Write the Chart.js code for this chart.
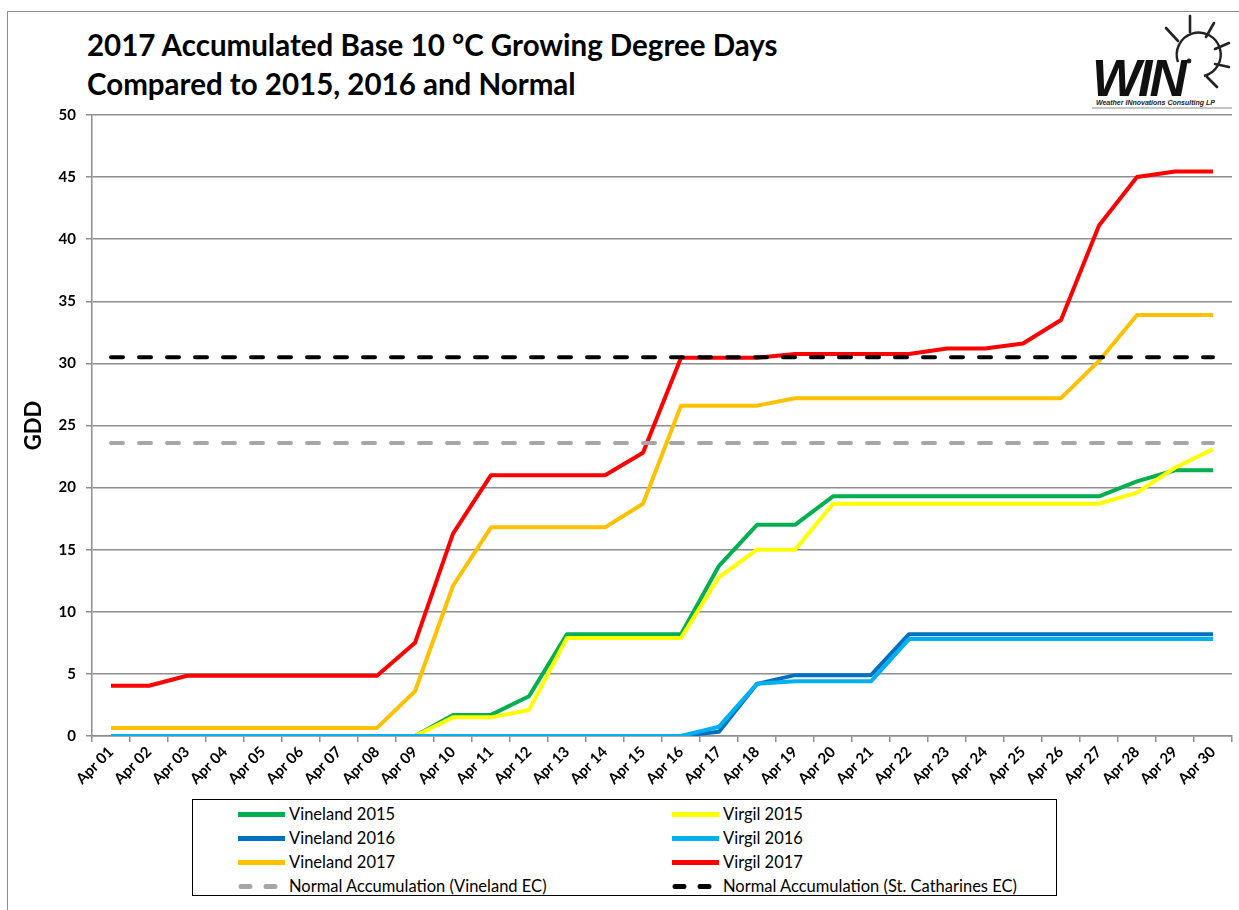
<!DOCTYPE html>
<html>
<head>
<meta charset="utf-8">
<title>2017 Accumulated Base 10 °C Growing Degree Days</title>
<script src="https://cdn.jsdelivr.net/npm/chart.js@4.4.1/dist/chart.umd.min.js"></script>
<style>
  html,body{margin:0;padding:0;background:#fff;}
  body{width:1239px;height:910px;position:relative;overflow:hidden;font-family:Lato,"Liberation Sans",sans-serif;}
  #frame{position:absolute;left:7px;top:11px;width:1250px;height:920px;border:1px solid #8c8c8c;}
  #title{position:absolute;left:87px;top:25px;font-weight:bold;font-size:29.5px;line-height:39px;color:#000;}
  #wrap{position:absolute;left:0;top:0;width:1239px;height:800px;}
  #logo{position:absolute;left:1086px;top:12px;}
  #legend{position:absolute;left:192px;top:799px;width:865px;height:97px;border:1px solid #000;box-sizing:border-box;background:#fff;}
  .item{position:absolute;height:20px;font-size:16.5px;line-height:20px;color:#000;white-space:nowrap;}
  .item canvas{position:absolute;left:0;top:0;}
  .item span{position:absolute;left:52px;top:0;}
</style>
</head>
<body>
<div id="frame"></div>
<div id="title">2017 Accumulated Base 10 °C Growing Degree Days<br>Compared to 2015, 2016 and Normal</div>
<svg id="logo" width="150" height="100" viewBox="0 0 150 100">
  <!-- sun -->
  <path d="M92 50 A 22 22 0 1 1 118 64" fill="none" stroke="#222" stroke-width="2.4"/>
  <g stroke="#222" stroke-width="2.6" stroke-linecap="round">
    <line x1="80" y1="16" x2="92" y2="29"/>
    <line x1="104" y1="4" x2="104" y2="20"/>
    <line x1="128" y1="11" x2="120" y2="25"/>
    <line x1="143" y1="31" x2="129" y2="37"/>
    <line x1="143" y1="55" x2="129" y2="52"/>
    <line x1="131" y1="75" x2="121" y2="65"/>
  </g>
  <circle cx="103" cy="49" r="2.4" fill="#222"/>
  <text x="6" y="84" font-family="Liberation Sans, sans-serif" font-weight="bold" font-style="italic" font-size="52" fill="#111" letter-spacing="-3">WIN</text>
  <text x="10" y="93" font-family="Liberation Sans, sans-serif" font-weight="bold" font-style="italic" font-size="7" fill="#222">Weather INnovations Consulting LP</text>
  <line x1="6" y1="96" x2="146" y2="96" stroke="#8c8c8c" stroke-width="1"/>
</svg>
<div id="wrap"><canvas id="gdd" width="1239" height="800"></canvas></div>
<div id="legend"></div>

<script>
// categories
const days = ['Apr 01','Apr 02','Apr 03','Apr 04','Apr 05','Apr 06','Apr 07','Apr 08','Apr 09','Apr 10',
  'Apr 11','Apr 12','Apr 13','Apr 14','Apr 15','Apr 16','Apr 17','Apr 18','Apr 19','Apr 20',
  'Apr 21','Apr 22','Apr 23','Apr 24','Apr 25','Apr 26','Apr 27','Apr 28','Apr 29','Apr 30'];

// series (GDD, base 10 °C)
const vineland2015 = [0,0,0,0,0,0,0,0,0,1.7,1.7,3.2,8.2,8.2,8.2,8.2,13.7,17.0,17.0,19.3,
  19.3,19.3,19.3,19.3,19.3,19.3,19.3,20.5,21.4,21.4];
const virgil2015 = [0,0,0,0,0,0,0,0,0,1.5,1.5,2.1,7.9,7.9,7.9,7.9,12.8,15.0,15.0,18.7,
  18.7,18.7,18.7,18.7,18.7,18.7,18.7,19.6,21.6,23.1];
const vineland2016 = [0,0,0,0,0,0,0,0,0,0,0,0,0,0,0,0,0.35,4.2,4.9,4.9,
  4.9,8.2,8.2,8.2,8.2,8.2,8.2,8.2,8.2,8.2];
const virgil2016 = [0,0,0,0,0,0,0,0,0,0,0,0,0,0,0,0,0.75,4.2,4.4,4.4,
  4.4,7.8,7.8,7.8,7.8,7.8,7.8,7.8,7.8,7.8];
const vineland2017 = [0.65,0.65,0.65,0.65,0.65,0.65,0.65,0.65,3.6,12.1,16.8,16.8,16.8,16.8,18.7,26.6,26.6,26.6,27.2,27.2,
  27.2,27.2,27.2,27.2,27.2,27.2,30.2,33.9,33.9,33.9];
const virgil2017 = [4.05,4.05,4.85,4.85,4.85,4.85,4.85,4.85,7.5,16.3,21.0,21.0,21.0,21.0,22.8,30.45,30.45,30.45,30.75,30.75,
  30.75,30.75,31.2,31.2,31.6,33.5,41.1,45.0,45.45,45.45];
const normalVineland = [23.6,23.6,23.6,23.6,23.6,23.6,23.6,23.6,23.6,23.6,23.6,23.6,23.6,23.6,23.6,
  23.6,23.6,23.6,23.6,23.6,23.6,23.6,23.6,23.6,23.6,23.6,23.6,23.6,23.6,23.6];
const normalStCath = [30.5,30.5,30.5,30.5,30.5,30.5,30.5,30.5,30.5,30.5,30.5,30.5,30.5,30.5,30.5,
  30.5,30.5,30.5,30.5,30.5,30.5,30.5,30.5,30.5,30.5,30.5,30.5,30.5,30.5,30.5];

// y ticks
const yTicks = [0,5,10,15,20,25,30,35,40,45,50];

const GRID = '#8e8e8e';

function line(label, data, color, dash){
  return {label, data, borderColor:color, backgroundColor:color, borderWidth:4,
    borderDash: dash ? [12,16] : [], borderCapStyle: dash ? 'round' : 'butt',
    borderJoinStyle:'round', pointRadius:0, tension:0, fill:false};
}

const datasets = [
  line('Vineland 2015', vineland2015, '#00B050'),
  line('Virgil 2015', virgil2015, '#FFFF00'),
  line('Vineland 2016', vineland2016, '#0070C0'),
  line('Virgil 2016', virgil2016, '#00B0F0'),
  line('Vineland 2017', vineland2017, '#FFC000'),
  line('Virgil 2017', virgil2017, '#FF0000'),
  line('Normal Accumulation (Vineland EC)', normalVineland, '#A6A6A6', true),
  line('Normal Accumulation (St. Catharines EC)', normalStCath, '#000000', true)
];
// later series on top, like the spreadsheet
datasets.forEach((d,i)=>{ d.order = -i; });

const chart = new Chart(document.getElementById('gdd'), {
  type:'line',
  data:{labels:days, datasets},
  options:{
    responsive:false, animation:false,
    layout:{padding:{left:21, right:7, top:115, bottom:0}},
    plugins:{legend:{display:false}, tooltip:{enabled:false}},
    scales:{
      x:{
        offset:true,
        grid:{drawOnChartArea:false, drawTicks:true, tickLength:6, offset:true, color:GRID, lineWidth:1.5},
        border:{color:GRID, width:1.5},
        ticks:{minRotation:45, maxRotation:45, autoSkip:false, color:'#000', padding:1,
          font:{family:'Lato', weight:'bold', size:15}},
        afterFit(s){ s.height = 64; }
      },
      y:{
        min:0, max:50,
        afterBuildTicks(s){ s.ticks = yTicks.map(v=>({value:v})); },
        grid:{color:GRID, lineWidth:1.5, tickLength:6},
        border:{color:GRID, width:1.5},
        ticks:{color:'#000', padding:10, font:{family:'Lato', weight:'bold', size:15}},
        title:{display:true, text:'GDD', color:'#000', padding:{top:0,bottom:0},
          font:{family:'Lato', weight:'bold', size:22}},
        afterFit(s){ s.width = 71; }
      }
    }
  }
});

// legend box, two columns
const legendEl = document.getElementById('legend');
chart.data.datasets.forEach((d,i)=>{
  const col = i % 2, row = Math.floor(i / 2);
  const item = document.createElement('div');
  item.className = 'item';
  item.style.left = (col ? 478 : 44) + 'px';
  item.style.top = (4 + row * 24) + 'px';
  const c = document.createElement('canvas');
  c.width = 50; c.height = 20;
  const g = c.getContext('2d');
  g.strokeStyle = d.borderColor; g.lineWidth = 5;
  g.lineCap = d.borderDash.length ? 'round' : 'butt';
  g.setLineDash(d.borderDash.length ? [9,16] : []);
  g.beginPath(); g.moveTo(d.borderDash.length ? 4 : 1, 10.5); g.lineTo(48, 10.5); g.stroke();
  const t = document.createElement('span');
  t.textContent = d.label;
  item.appendChild(c); item.appendChild(t);
  legendEl.appendChild(item);
});
</script>
</body>
</html>
